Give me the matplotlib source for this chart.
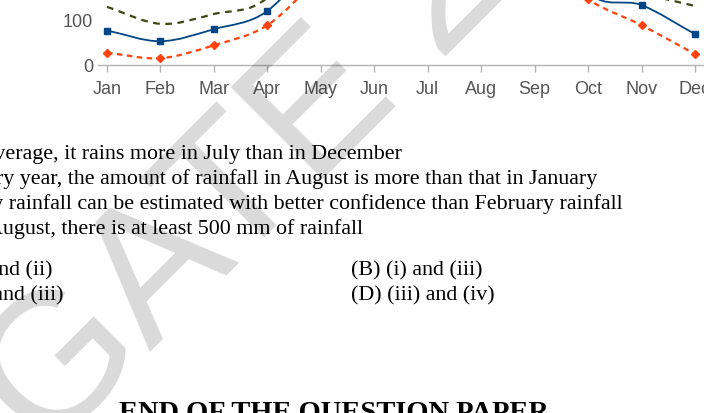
import matplotlib.pyplot as plt
from matplotlib.path import Path
from matplotlib.patches import PathPatch

W, H = 704, 413

months = ["Jan", "Feb", "Mar", "Apr", "May", "Jun",
          "Jul", "Aug", "Sep", "Oct", "Nov", "Dec"]
# rainfall (mm); mid-year values sit above the visible part of the chart
upper = [131, 93, 115, 152, 330, 600, 780, 720, 510, 210, 163, 133]
mean = [78, 54, 81, 122, 260, 450, 600, 550, 380, 165, 135, 70]
lower = [28, 16, 45, 90, 200, 300, 420, 380, 250, 148, 90, 25]
y_ticks = [0, 100]

statements = [
    "(i) On average, it rains more in July than in December",
    "(ii) Every year, the amount of rainfall in August is more than that in January",
    "(iii) July rainfall can be estimated with better confidence than February rainfall",
    "(iv) In August, there is at least 500 mm of rainfall",
]
options = ["(A) (i) and (ii)", "(B) (i) and (iii)",
           "(C) (ii) and (iii)", "(D) (iii) and (iv)"]
footer = "END OF THE QUESTION PAPER"
watermark = "GATE 2016"


def px(x, y):
    # pixel position (top-left origin) -> figure fraction
    return x / W, 1 - y / H


def smooth(xs, ys):
    # Catmull-Rom style bezier through the data points
    n = len(xs)
    tang = []
    for i in range(n):
        a = max(i - 1, 0)
        b = min(i + 1, n - 1)
        tang.append((ys[b] - ys[a]) / (xs[b] - xs[a]))
    verts = [(xs[0], ys[0])]
    codes = [Path.MOVETO]
    for i in range(n - 1):
        dx = (xs[i + 1] - xs[i]) / 3
        verts += [(xs[i] + dx, ys[i] + tang[i] * dx),
                  (xs[i + 1] - dx, ys[i + 1] - tang[i + 1] * dx),
                  (xs[i + 1], ys[i + 1])]
        codes += [Path.CURVE4] * 3
    return Path(verts, codes)


fig = plt.figure(figsize=(W / 100, H / 100), dpi=100)
fig.patch.set_facecolor("white")

# chart: 0 at y=65.3px, 100 at y=20.7px, Jan at x=107, Dec at x=695
ppu = (65.3 - 20.7) / 100
step = (695 - 107) / 11
left_px = 98
x0 = -(107 - left_px) / step
right_px = 720
x1 = 11 + (right_px - 695) / step
ax = fig.add_axes([left_px / W, (H - 65.3) / H, (right_px - left_px) / W, 65.3 / H])
ax.set_xlim(x0, x1)
ax.set_ylim(0, 65.3 / ppu)
ax.set_facecolor("none")

xs = list(range(len(months)))
ax.add_patch(PathPatch(smooth(xs, upper), fill=False, edgecolor="#3b4714",
                       lw=1.6, linestyle=(0, (3, 2.5)), clip_on=True))
ax.add_patch(PathPatch(smooth(xs, mean), fill=False, edgecolor="#004586",
                       lw=1.3, clip_on=True))
ax.add_patch(PathPatch(smooth(xs, lower), fill=False, edgecolor="#ff420e",
                       lw=1.6, linestyle=(0, (2.5, 2)), clip_on=True))
ax.plot(xs, mean, linestyle="none", marker="s", ms=5, color="#004586")
ax.plot(xs, lower, linestyle="none", marker="D", ms=4.5, color="#ff420e")

for s in ["top", "right", "left"]:
    ax.spines[s].set_visible(False)
ax.spines["bottom"].set_color("#b3b3b3")
ax.spines["bottom"].set_linewidth(1.0)
ax.set_xticks(xs)
ax.set_xticklabels(months)
ax.set_yticks(y_ticks)
ax.tick_params(axis="x", length=5, width=1, color="#b3b3b3", pad=6.5,
               labelsize=13, labelcolor="#555555")
ax.tick_params(axis="y", length=0, pad=3.5, labelsize=13, labelcolor="#555555")
for lab in ax.get_xticklabels() + ax.get_yticklabels():
    lab.set_family("Liberation Sans")

# question text
serif = "Liberation Serif"
fs = 15.8
ends = [402, 597, 623, 363]
bases = [159, 184, 209, 234]
for txt, xe, yb in zip(statements, ends, bases):
    fig.text(*px(xe, yb), txt, ha="right", va="baseline", family=serif,
             fontsize=fs, color="black")
fig.text(*px(52, 275), options[0], ha="right", va="baseline", family=serif, fontsize=fs)
fig.text(*px(351, 275), options[1], ha="left", va="baseline", family=serif, fontsize=fs)
fig.text(*px(63, 300), options[2], ha="right", va="baseline", family=serif, fontsize=fs)
fig.text(*px(351, 300), options[3], ha="left", va="baseline", family=serif, fontsize=fs)
fig.text(*px(334, 420), footer, ha="center", va="baseline", family=serif,
         fontsize=20.5, fontweight="bold")

# diagonal watermark
fig.text(*px(46, 457), watermark, rotation=45, rotation_mode="anchor",
         ha="left", va="baseline", family="Liberation Sans", fontsize=137,
         color="black", alpha=0.15, zorder=10)

fig.savefig("out.png", dpi=100)
